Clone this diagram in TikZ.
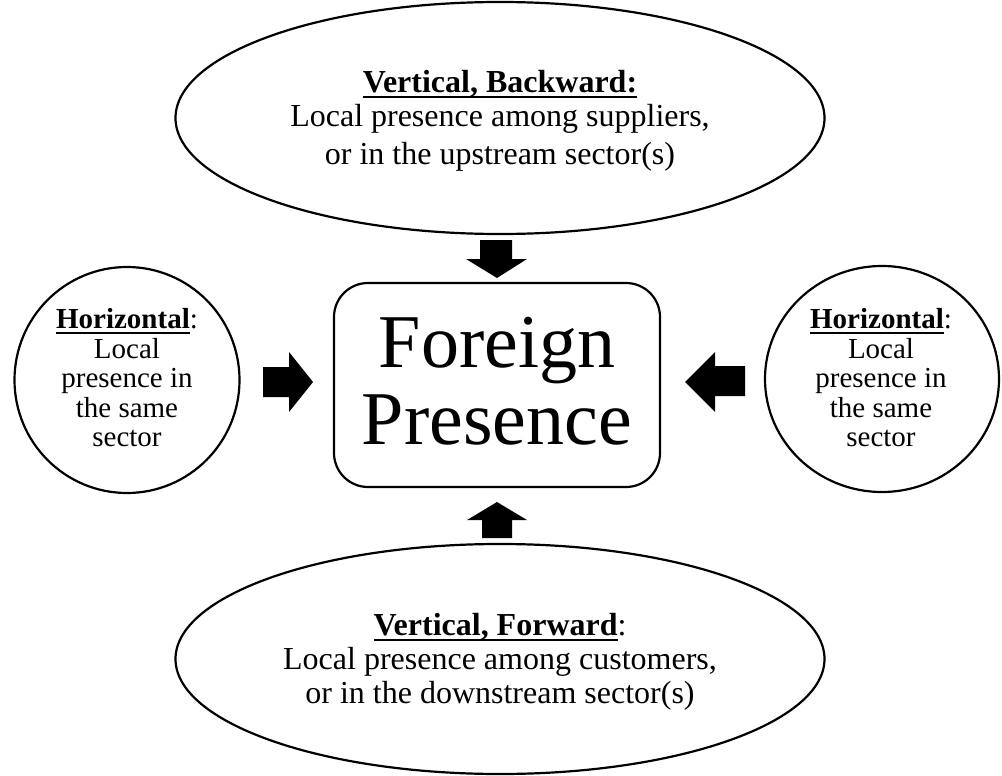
\documentclass[tikz,border=0pt]{standalone}
\usepackage{fontspec}
\setmainfont{Liberation Serif}
\usetikzlibrary{shapes.geometric}
\newcommand\thickul[1]{\setbox0\hbox{#1}\rlap{\rule[-5.5pt]{\wd0}{2.4pt}}\box0}
\tikzset{
  outline/.style={draw=black, line width=2.2pt, fill=white},
  oval/.style={outline, ellipse, inner sep=0pt},
  blockarrow/.style={fill=black, draw=none},
  midtext/.style={align=center, font=\fontsize{32}{34}\selectfont},
  circtext/.style={align=center, font=\fontsize{29}{29.5}\selectfont},
}
\begin{document}
\begin{tikzpicture}[x=1pt,y=-1pt]
\useasboundingbox (0,0) rectangle (1002,776);
% shapes
\node[oval, minimum width=649, minimum height=232] (top) at (500,118) {};
\node[oval, minimum width=649, minimum height=230] (bot) at (500,659) {};
\node[oval, minimum width=225, minimum height=226] (left) at (127,380) {};
\node[oval, minimum width=234, minimum height=226] (right) at (882,379) {};
\node[outline, rounded corners=34, minimum width=326, minimum height=204] (fp) at (497,385) {};
% texts
\node[midtext] (toptext) at (500,121) {\thickul{\textbf{Vertical, Backward:}}\\ Local presence among suppliers,\\[4pt] or in the upstream sector(s)};
\node[midtext] (bottext) at (500,662) {\thickul{\textbf{Vertical, Forward}}:\\ Local presence among customers,\\ or in the downstream sector(s)};
\node[circtext] (lefttext) at (127,378) {\thickul{\textbf{Horizontal}}:\\ Local\\ presence in\\ the same\\ sector};
\node[circtext] (righttext) at (881,378) {\thickul{\textbf{Horizontal}}:\\ Local\\ presence in\\ the same\\ sector};
\node[align=center, font=\fontsize{76}{77}\selectfont] (fptext) at (497,381) {Foreign\\Presence};
% block arrows
\fill[blockarrow] (480,240) -- (512,240) -- (512,259) -- (527,259) -- (497,278) -- (466,259) -- (480,259) -- cycle;
\fill[blockarrow] (482,538) -- (512,538) -- (512,520) -- (527,520) -- (497,502) -- (467,520) -- (482,520) -- cycle;
\fill[blockarrow] (263,367) -- (289,367) -- (289,352) -- (313,382) -- (289,412) -- (289,397) -- (263,397) -- cycle;
\fill[blockarrow] (745,366) -- (715,366) -- (715,352) -- (685,382) -- (715,412) -- (715,396) -- (745,396) -- cycle;
\end{tikzpicture}
\end{document}
